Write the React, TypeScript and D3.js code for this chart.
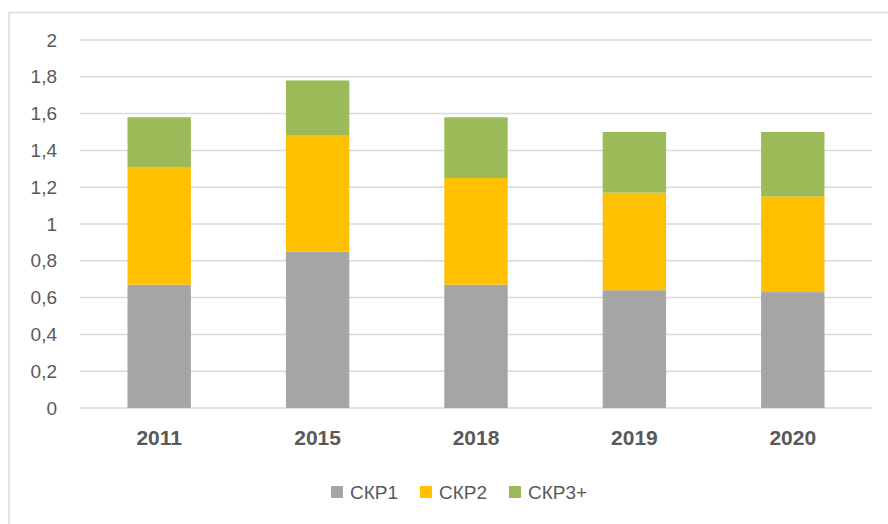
import React, { useEffect, useRef } from 'react';
import * as d3 from 'd3';

const years = ['2011', '2015', '2018', '2019', '2020'];
const skr1 = [0.67, 0.85, 0.67, 0.64, 0.63];
const skr2 = [0.64, 0.63, 0.58, 0.53, 0.52];
const skr3 = [0.27, 0.30, 0.33, 0.33, 0.35];
const seriesNames = ['СКР1', 'СКР2', 'СКР3+'];
const yTicks = [0, 0.2, 0.4, 0.6, 0.8, 1, 1.2, 1.4, 1.6, 1.8, 2];

const colors = ['#A5A5A5', '#FFC000', '#9BBB59'];
const font = '"Liberation Sans", Arial, sans-serif';

const App = () => {
  const svgRef = useRef<SVGSVGElement>(null);

  useEffect(() => {
    const svg = d3.select(svgRef.current);
    svg.selectAll('*').remove();
    const width = 888;
    const height = 524;
    const margin = { top: 40, right: 16, bottom: 116, left: 80 };

    // outer frame (only top and left edges visible)
    svg.append('rect')
      .attr('x', 9).attr('y', 12.5)
      .attr('width', 900).attr('height', 600)
      .attr('fill', 'white')
      .attr('stroke', '#D9D9D9')
      .attr('stroke-width', 1.5);

    const rows = years.map((y, i) => ({ year: y, s0: skr1[i], s1: skr2[i], s2: skr3[i] }));
    const stack = d3.stack<any>().keys(['s0', 's1', 's2'])(rows);

    const x = d3.scaleBand()
      .domain(years)
      .range([margin.left, width - margin.right])
      .paddingInner(0.6)
      .paddingOuter(0.3);

    const y = d3.scaleLinear()
      .domain([0, 2])
      .range([height - margin.bottom, margin.top]);

    // grid
    svg.append('g')
      .selectAll('line')
      .data(yTicks)
      .enter().append('line')
        .attr('x1', margin.left)
        .attr('x2', width - margin.right)
        .attr('y1', d => y(d))
        .attr('y2', d => y(d))
        .attr('stroke', '#D9D9D9')
        .attr('stroke-width', 1.5);

    // y labels
    svg.append('g')
      .selectAll('text')
      .data(yTicks)
      .enter().append('text')
        .attr('x', 57)
        .attr('y', d => y(d))
        .attr('dy', '0.35em')
        .attr('text-anchor', 'end')
        .attr('font-family', font)
        .attr('font-size', 19)
        .attr('fill', '#595959')
        .text(d => d3.format('.1~f')(d).replace('.', ','));

    // bars
    svg.append('g')
      .selectAll('g')
      .data(stack)
      .enter().append('g')
        .attr('fill', (d, i) => colors[i])
      .selectAll('rect')
      .data(d => d)
      .enter().append('rect')
        .attr('x', d => x(d.data.year)!)
        .attr('width', x.bandwidth())
        .attr('y', d => y(d[1]))
        .attr('height', d => y(d[0]) - y(d[1]));

    // x labels
    svg.append('g')
      .selectAll('text')
      .data(years)
      .enter().append('text')
        .attr('x', d => x(d)! + x.bandwidth() / 2)
        .attr('y', 438)
        .attr('dy', '0.35em')
        .attr('text-anchor', 'middle')
        .attr('font-family', font)
        .attr('font-weight', 'bold')
        .attr('font-size', 21)
        .attr('fill', '#595959')
        .text(d => d);

    // legend
    const legend = svg.append('g')
      .selectAll('g')
      .data(seriesNames)
      .enter().append('g')
        .attr('transform', (d, i) => `translate(${331 + i * 89},492)`);
    legend.append('rect')
      .attr('x', 0).attr('y', -6)
      .attr('width', 12).attr('height', 12)
      .attr('fill', (d, i) => colors[i]);
    legend.append('text')
      .attr('x', 19)
      .attr('dy', '0.35em')
      .attr('font-family', font)
      .attr('font-size', 19)
      .attr('fill', '#595959')
      .text(d => d);
  }, []);

  return (
    <svg ref={svgRef} width="888" height="524"
      style={{ position: 'absolute', left: 0, top: 0, background: 'white' }}>
    </svg>
  );
};

export default App;
